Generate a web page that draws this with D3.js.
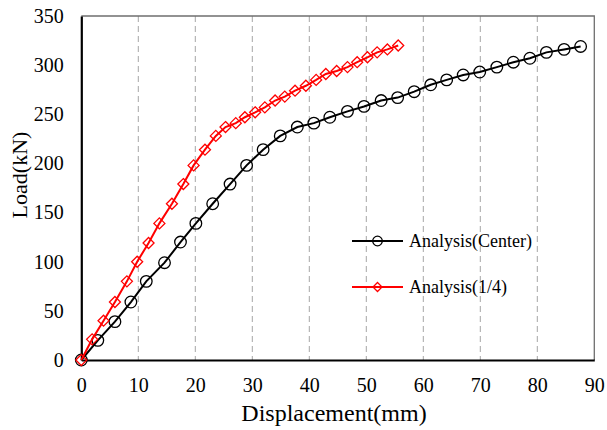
<!DOCTYPE html>
<html>
<head>
<meta charset="utf-8">
<script src="https://cdn.jsdelivr.net/npm/d3@7"></script>
<style>
  html, body { margin: 0; padding: 0; background: #fff; }
  svg text { font-family: "Liberation Serif", "Times New Roman", Times, "DejaVu Serif", serif !important; }
</style>
</head>
<body>
<svg id="chart" width="607" height="430"></svg>
<script>
// ---- data ----
const centerDisp = [0, 2.9, 5.9, 8.7, 11.4, 14.6, 17.4, 20.1, 23.05, 26.1, 29.0, 31.9, 34.9, 37.9, 40.8, 43.6, 46.7, 49.6, 52.6, 55.5, 58.4, 61.3, 64.1, 67.0, 69.9, 72.9, 75.8, 78.7, 81.6, 84.7, 87.6];
const centerLoad = [0, 20, 39, 59, 80, 99, 120, 139, 159, 179, 198, 214, 228, 237, 241, 247, 253, 258, 264, 267, 273, 280, 285, 290, 293, 298, 303, 307, 313, 316, 319];
const quarterDisp = [0, 1.9, 3.9, 5.9, 8.0, 9.8, 11.8, 13.7, 15.9, 17.9, 19.7, 21.7, 23.6, 25.3, 27.1, 28.7, 30.5, 32.2, 34.0, 35.7, 37.5, 39.4, 41.2, 42.9, 44.8, 46.7, 48.4, 50.2, 51.9, 53.7, 55.6];
const quarterLoad = [0, 21, 40, 59, 80, 100, 119, 139, 159, 179, 198, 214, 228, 237, 241, 247, 252, 257, 264, 268, 274, 279, 285, 291, 294, 298, 303, 308, 313, 316, 320];
const xTicks = [0, 10, 20, 30, 40, 50, 60, 70, 80, 90];
const yTicks = [0, 50, 100, 150, 200, 250, 300, 350];
const seriesNames = ["Analysis(Center)", "Analysis(1/4)"];
const seriesColors = ["#000000", "#ff0000"];
const xTitle = "Displacement(mm)";
const yTitle = "Load(kN)";

// ---- layout ----
const FONT = '"Liberation Serif", "Times New Roman", Times, "DejaVu Serif", serif';
const svg = d3.select("#chart");
const L = 81.3, R = 594.3, T = 16, B = 360;
const x = d3.scaleLinear().domain([0, 90]).range([L, R]);
const y = d3.scaleLinear().domain([0, 350]).range([B, T]);

// gridlines (vertical dashed)
svg.append("g").selectAll("line")
  .data(xTicks.filter(d => d > 0 && d < 90))
  .join("line")
  .attr("x1", d => x(d)).attr("x2", d => x(d))
  .attr("y1", y(350)).attr("y2", y(0))
  .attr("stroke", "#a6a6a6").attr("stroke-width", 1)
  .attr("stroke-dasharray", "6,4");

// top/right border
svg.append("path")
  .attr("d", `M${L},${T}H${R}V${B}`)
  .attr("fill", "none").attr("stroke", "#6f6f6f").attr("stroke-width", 1.3);

// axes
const xAxis = svg.append("g").attr("transform", `translate(0,${B})`)
  .call(d3.axisBottom(x).tickValues(xTicks).tickSize(0).tickPadding(18).tickFormat(d3.format("d")));
xAxis.attr("font-family", null);
xAxis.select(".domain").attr("stroke", "#000").attr("stroke-width", 2.2);
xAxis.selectAll("text").style("font-family", FONT).style("font-size", "20px").attr("fill", "#000");

const yAxis = svg.append("g").attr("transform", `translate(${L},0)`)
  .call(d3.axisLeft(y).tickValues(yTicks).tickSize(0).tickPadding(17.5).tickFormat(d3.format("d")));
yAxis.attr("font-family", null);
yAxis.select(".domain").attr("stroke", "#000").attr("stroke-width", 2.2);
yAxis.selectAll("text").style("font-family", FONT).style("font-size", "20px").attr("fill", "#000");

// axis titles
svg.append("text").attr("x", 334).attr("y", 421).attr("text-anchor", "middle")
  .style("font-family", FONT).style("font-size", "24px").attr("fill", "#000").text(xTitle);
svg.append("text").attr("transform", "translate(27,175) rotate(-90)")
  .attr("text-anchor", "middle").style("font-family", FONT).style("font-size", "22px")
  .attr("fill", "#000").text(yTitle);

// series
const line = d3.line().x(d => x(d[0])).y(d => y(d[1]));
const centerPts = centerDisp.map((d, i) => [d, centerLoad[i]]);
const quarterPts = quarterDisp.map((d, i) => [d, quarterLoad[i]]);

const diamond = (s) => `M0,${-s}L${s},0L0,${s}L${-s},0Z`;

// Center (black, circles)
svg.append("path").datum(centerPts).attr("d", line)
  .attr("fill", "none").attr("stroke", seriesColors[0]).attr("stroke-width", 2);
svg.append("g").selectAll("circle").data(centerPts).join("circle")
  .attr("cx", d => x(d[0])).attr("cy", d => y(d[1])).attr("r", 5.8)
  .attr("fill", "none").attr("stroke", seriesColors[0]).attr("stroke-width", 1.3);

// Quarter (red, diamonds)
svg.append("path").datum(quarterPts).attr("d", line)
  .attr("fill", "none").attr("stroke", seriesColors[1]).attr("stroke-width", 2);
svg.append("g").selectAll("path").data(quarterPts).join("path")
  .attr("transform", d => `translate(${x(d[0])},${y(d[1])})`)
  .attr("d", diamond(5.5))
  .attr("fill", "none").attr("stroke", seriesColors[1]).attr("stroke-width", 1.3);

// legend
const legend = svg.append("g");
const legY = [241, 287];
seriesNames.forEach((name, i) => {
  const g = legend.append("g").attr("transform", `translate(0,${legY[i]})`);
  g.append("line").attr("x1", 352).attr("x2", 403).attr("y1", 0).attr("y2", 0)
    .attr("stroke", seriesColors[i]).attr("stroke-width", 2);
  if (i === 0) {
    g.append("circle").attr("cx", 377.5).attr("cy", 0).attr("r", 4.8)
      .attr("fill", "none").attr("stroke", seriesColors[i]).attr("stroke-width", 1.3);
  } else {
    g.append("path").attr("transform", "translate(377.5,0)").attr("d", diamond(4.5))
      .attr("fill", "none").attr("stroke", seriesColors[i]).attr("stroke-width", 1.3);
  }
  g.append("text").attr("x", 409).attr("y", 0).attr("dy", "0.33em")
    .style("font-family", FONT).style("font-size", "18px").attr("fill", "#000").text(name);
});
</script>
</body>
</html>
